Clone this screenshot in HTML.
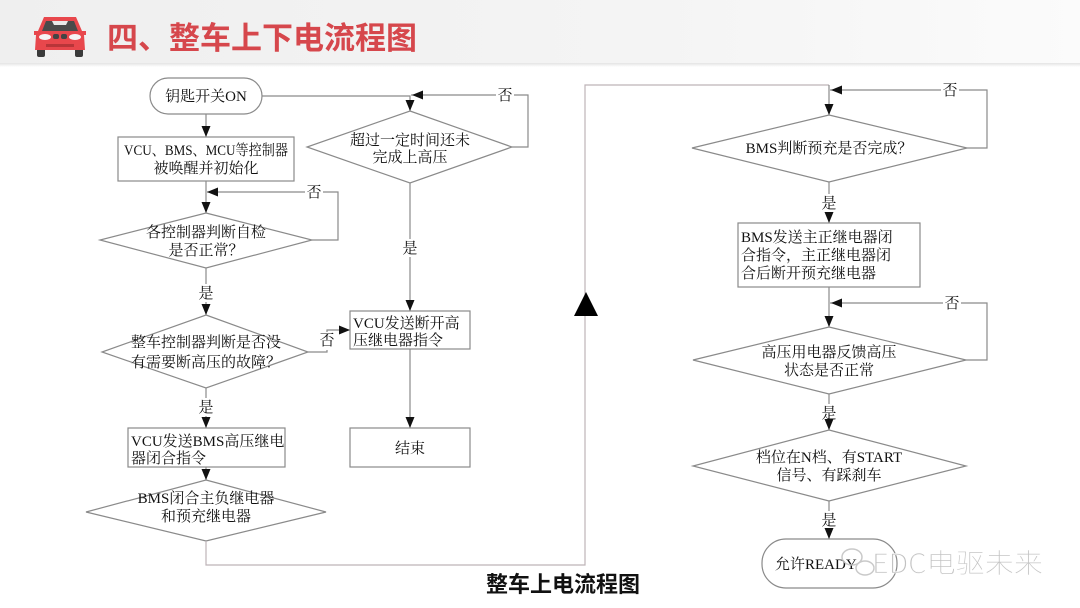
<!DOCTYPE html>
<html><head><meta charset="utf-8"><style>
html,body{margin:0;padding:0;background:#fff;}
body{width:1080px;height:608px;overflow:hidden;position:relative;}
svg{display:block;}
.t{font-family:"Liberation Serif","Noto Serif CJK SC",serif;font-size:15px;fill:#111;}
.ln{stroke:#8a8a8a;stroke-width:1.2;fill:none;}
.sh{stroke:#8a8a8a;stroke-width:1.2;fill:#fff;}
.ar{fill:#111;}
</style></head><body>
<svg width="1080" height="608" viewBox="0 0 1080 608" xmlns="http://www.w3.org/2000/svg">
<defs>
<linearGradient id="hg" x1="0" y1="0" x2="1" y2="0">
<stop offset="0" stop-color="#efefef"/><stop offset="0.6" stop-color="#f4f4f4"/><stop offset="1" stop-color="#fbfbfb"/>
</linearGradient>
<linearGradient id="hs" x1="0" y1="0" x2="0" y2="1">
<stop offset="0" stop-color="#e4e4e4"/><stop offset="1" stop-color="#ffffff"/>
</linearGradient>
</defs>
<!-- header -->
<rect x="0" y="0" width="1080" height="63" fill="url(#hg)"/>
<rect x="0" y="63" width="1080" height="4" fill="url(#hs)"/>
<!-- car icon -->
<g>
<rect x="37" y="46" width="8" height="11" rx="2" fill="#3a3a3a"/>
<rect x="75" y="46" width="8" height="11" rx="2" fill="#3a3a3a"/>
<path d="M44 17 L76 17 L82 31 L86 31 L86 35 L84 35 L85 50 L35 50 L36 35 L34 35 L34 31 L38 31 Z" fill="#e8474c"/>
<path d="M46 21 L74 21 L78 31 L42 31 Z" fill="#4a4a4a"/>
<path d="M52 21 L68 21 L66 25 L54 25 Z" fill="#e9e9e9"/>
<ellipse cx="45" cy="37" rx="6" ry="3" fill="#f4f4f4"/>
<ellipse cx="75" cy="37" rx="6" ry="3" fill="#f4f4f4"/>
<rect x="53" y="34" width="6" height="5" rx="2" fill="#444"/>
<rect x="61" y="34" width="6" height="5" rx="2" fill="#444"/>
<rect x="46" y="44" width="28" height="3" fill="#b83539"/>
</g>
<text x="107" y="49" style="font-family:'Noto Sans CJK SC','WenQuanYi Zen Hei',sans-serif;font-size:31px;font-weight:700;fill:#d6474c;">四、整车上下电流程图</text>

<!-- ===== Left column ===== -->
<rect class="sh" x="150" y="78" width="112" height="36" rx="18"/>
<text class="t" x="206" y="101" text-anchor="middle">钥匙开关ON</text>
<path class="ln" d="M206 114 V137"/>
<polygon class="ar" points="201.5,126 210.5,126 206,137"/>
<rect class="sh" x="118" y="137" width="176" height="44"/>
<text class="t" x="124" y="155" textLength="164" lengthAdjust="spacingAndGlyphs">VCU、BMS、MCU等控制器</text>
<text class="t" x="206" y="173" text-anchor="middle">被唤醒并初始化</text>
<path class="ln" d="M206 181 V213"/>
<polygon class="ar" points="201.5,202 210.5,202 206,213"/>
<!-- loop 否 -->
<path class="ln" d="M312 240 H338 V192 H207"/>
<polygon class="ar" points="207,192 218,187.5 218,196.5"/>
<rect x="305" y="183" width="18" height="18" fill="#fff"/>
<text class="t" x="314" y="197" text-anchor="middle">否</text>
<polygon class="sh" points="206,213 312,240 206,268 100,240"/>
<text class="t" x="206" y="237" text-anchor="middle">各控制器判断自检</text>
<text class="t" x="206" y="255" text-anchor="middle">是否正常？</text>
<path class="ln" d="M206 268 V315"/>
<rect x="197" y="284" width="18" height="18" fill="#fff"/>
<text class="t" x="206" y="298" text-anchor="middle">是</text>
<polygon class="ar" points="201.5,304 210.5,304 206,315"/>
<polygon class="sh" points="206,315 308,352 206,388 102,352"/>
<text class="t" x="206" y="347" text-anchor="middle">整车控制器判断是否没</text>
<text class="t" x="206" y="367" text-anchor="middle">有需要断高压的故障？</text>
<!-- 否 to VCU box -->
<path class="ln" d="M308 352 H327 V330 H350"/>
<polygon class="ar" points="350,330 339,325.5 339,334.5"/>
<rect x="318" y="332" width="18" height="18" fill="#fff"/>
<text class="t" x="327" y="345" text-anchor="middle">否</text>
<path class="ln" d="M206 388 V428"/>
<rect x="197" y="398" width="18" height="18" fill="#fff"/>
<text class="t" x="206" y="412" text-anchor="middle">是</text>
<polygon class="ar" points="201.5,417 210.5,417 206,428"/>
<rect class="sh" x="128" y="428" width="157" height="39"/>
<text class="t" x="131" y="446">VCU发送BMS高压继电</text>
<text class="t" x="131" y="463">器闭合指令</text>
<path class="ln" d="M206 467 V480"/>
<polygon class="ar" points="201.5,469 210.5,469 206,480"/>
<polygon class="sh" points="206,480 326,512 206,541 86,512"/>
<text class="t" x="206" y="503" text-anchor="middle">BMS闭合主负继电器</text>
<text class="t" x="206" y="521" text-anchor="middle">和预充继电器</text>

<!-- long return connector -->
<path d="M206 541 V565 H585 V85 H829" stroke="#bdb3b8" stroke-width="1.2" fill="none"/>
<polygon points="574,316 598,316 586,292" fill="#000"/>

<!-- ===== Middle column ===== -->
<path class="ln" d="M262 96 H410 V111"/>
<polygon class="ar" points="405.5,100 414.5,100 410,111"/>
<path class="ln" d="M512 147 H528 V95 H411"/>
<polygon class="ar" points="412,95 423,90.5 423,99.5"/>
<rect x="496" y="86" width="18" height="18" fill="#fff"/>
<text class="t" x="505" y="100" text-anchor="middle">否</text>
<polygon class="sh" points="410,111 512,147 410,183 307,147"/>
<text class="t" x="410" y="145" text-anchor="middle">超过一定时间还未</text>
<text class="t" x="410" y="162" text-anchor="middle">完成上高压</text>
<path class="ln" d="M410 183 V311"/>
<rect x="401" y="239" width="18" height="18" fill="#fff"/>
<text class="t" x="410" y="253" text-anchor="middle">是</text>
<polygon class="ar" points="405.5,300 414.5,300 410,311"/>
<rect class="sh" x="350" y="311" width="120" height="38"/>
<text class="t" x="353" y="328">VCU发送断开高</text>
<text class="t" x="353" y="345">压继电器指令</text>
<path class="ln" d="M410 349 V428"/>
<polygon class="ar" points="405.5,417 414.5,417 410,428"/>
<rect class="sh" x="350" y="428" width="120" height="39"/>
<text class="t" x="410" y="453" text-anchor="middle">结束</text>

<!-- ===== Right column ===== -->
<path class="ln" d="M829 85 V115"/>
<polygon class="ar" points="824.5,104 833.5,104 829,115"/>
<path class="ln" d="M967 148 H987 V90 H830"/>
<polygon class="ar" points="831,90 842,85.5 842,94.5"/>
<rect x="941" y="81" width="18" height="18" fill="#fff"/>
<text class="t" x="950" y="95" text-anchor="middle">否</text>
<polygon class="sh" points="829,115 967,148 829,182 692,148"/>
<text class="t" x="829" y="153" text-anchor="middle">BMS判断预充是否完成？</text>
<path class="ln" d="M829 182 V223"/>
<rect x="820" y="194" width="18" height="18" fill="#fff"/>
<text class="t" x="829" y="208" text-anchor="middle">是</text>
<polygon class="ar" points="824.5,212 833.5,212 829,223"/>
<rect class="sh" x="738" y="223" width="182" height="64"/>
<text class="t" x="741" y="242">BMS发送主正继电器闭</text>
<text class="t" x="741" y="260">合指令，主正继电器闭</text>
<text class="t" x="741" y="278">合后断开预充继电器</text>
<path class="ln" d="M829 287 V327"/>
<polygon class="ar" points="824.5,316 833.5,316 829,327"/>
<path class="ln" d="M966 360 H987 V303 H830"/>
<polygon class="ar" points="831,303 842,298.5 842,307.5"/>
<rect x="943" y="294" width="18" height="18" fill="#fff"/>
<text class="t" x="952" y="308" text-anchor="middle">否</text>
<polygon class="sh" points="829,327 966,360 829,394 693,360"/>
<text class="t" x="829" y="357" text-anchor="middle">高压用电器反馈高压</text>
<text class="t" x="829" y="375" text-anchor="middle">状态是否正常</text>
<path class="ln" d="M829 394 V430"/>
<rect x="820" y="404" width="18" height="18" fill="#fff"/>
<text class="t" x="829" y="418" text-anchor="middle">是</text>
<polygon class="ar" points="824.5,419 833.5,419 829,430"/>
<polygon class="sh" points="829,430 966,466 829,501 693,466"/>
<text class="t" x="829" y="462" text-anchor="middle">档位在N档、有START</text>
<text class="t" x="829" y="480" text-anchor="middle">信号、有踩刹车</text>
<path class="ln" d="M829 501 V539"/>
<rect x="820" y="511" width="18" height="18" fill="#fff"/>
<text class="t" x="829" y="525" text-anchor="middle">是</text>
<polygon class="ar" points="824.5,528 833.5,528 829,539"/>
<rect class="sh" x="762" y="539" width="135" height="49" rx="24"/>
<text class="t" x="775" y="569">允许READY</text>

<!-- watermark -->
<g opacity="0.9">
<ellipse cx="852" cy="557" rx="10" ry="8" fill="none" stroke="#c4c4c4" stroke-width="1.5"/>
<ellipse cx="865" cy="568" rx="9" ry="7" fill="none" stroke="#c4c4c4" stroke-width="1.5"/>
</g>
<text x="872" y="573" textLength="171" lengthAdjust="spacingAndGlyphs" style="font-family:'Noto Sans CJK SC','WenQuanYi Zen Hei',sans-serif;font-size:27px;font-weight:300;fill:#c2c2c2;" stroke="#ffffff" stroke-width="0.5">EDC电驱未来</text>

<!-- caption -->
<text x="563" y="592" text-anchor="middle" style="font-family:'Noto Sans CJK SC','WenQuanYi Zen Hei',sans-serif;font-size:22px;font-weight:700;fill:#111;">整车上电流程图</text>
</svg>
</body></html>
